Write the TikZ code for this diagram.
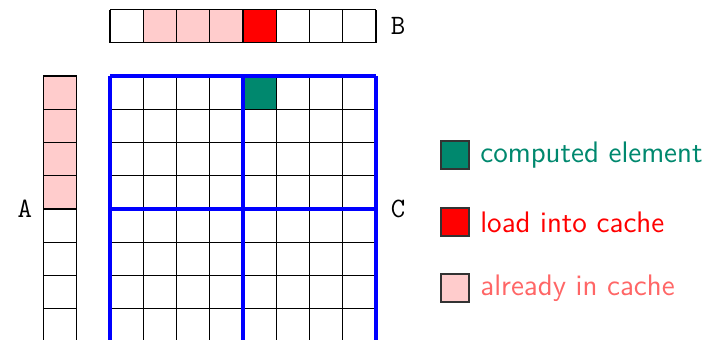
\documentclass[tikz,border=0pt]{standalone}
\usepackage{xcolor}
\usepackage{tikz}
\usetikzlibrary{positioning}
\definecolor{cachegreen}{RGB}{0, 136, 110}
\definecolor{cachepink}{RGB}{255, 204, 204}
\definecolor{cachetext}{RGB}{255, 102, 102}
\tikzset{
    cell/.style={draw=black, line width=0.5pt, step=0.5cm},
    block/.style={draw=blue, line width=1.5pt, step=2cm},
    cached/.style={fill=cachepink},
    loading/.style={fill=red},
    computed/.style={fill=cachegreen},
    matlabel/.style={font=\ttfamily\large},
    key/.style={
        rectangle,
        draw=black!80,
        line width=0.6pt,
        minimum size=0.42cm,
        inner sep=0pt
    },
    keytext/.style={font=\sffamily\fontsize{12.7}{15}\selectfont, right=1pt of #1}
}

\begin{document}
\begin{tikzpicture}[x=0.5cm, y=0.5cm]
    \useasboundingbox (-3.308, 2.286) rectangle (17.865, -7.91);

    % B row
    \foreach \i in {1,2,3}
        \fill[cached] (\i,1) rectangle ++(1,1);
    \fill[loading] (4,1) rectangle ++(1,1);
    \draw[cell] (0,1) grid (8,2);

    % A column
    \fill[cached] (-2,-4) rectangle (-1,0);
    \draw[cell] (-2,-8) grid (-1,0);

    % C matrix with its blocks
    \fill[computed] (4,-1) rectangle (5,0);
    \draw[cell] (0,-8) grid (8,0);
    \draw[block] (0,-8) grid (8,0);

    % Labels
    \node[matlabel, anchor=west] (lblB) at (8.2,1.5) {B};
    \node[matlabel, anchor=west] (lblC) at (8.2,-4) {C};
    \node[matlabel] (lblA) at (-2.56,-4) {A};

    % Legend
    \node[key, fill=cachegreen] (kcomp) at (10.38,-2.38) {};
    \node[keytext=kcomp, text=cachegreen] (tcomp) {computed element};
    \node[key, fill=red] (kload) at (10.38,-4.39) {};
    \node[keytext=kload, text=red] (tload) {load into cache};
    \node[key, fill=cachepink] (kcache) at (10.38,-6.38) {};
    \node[keytext=kcache, text=cachetext] (tcache) {already in cache};

\end{tikzpicture}
\end{document}
